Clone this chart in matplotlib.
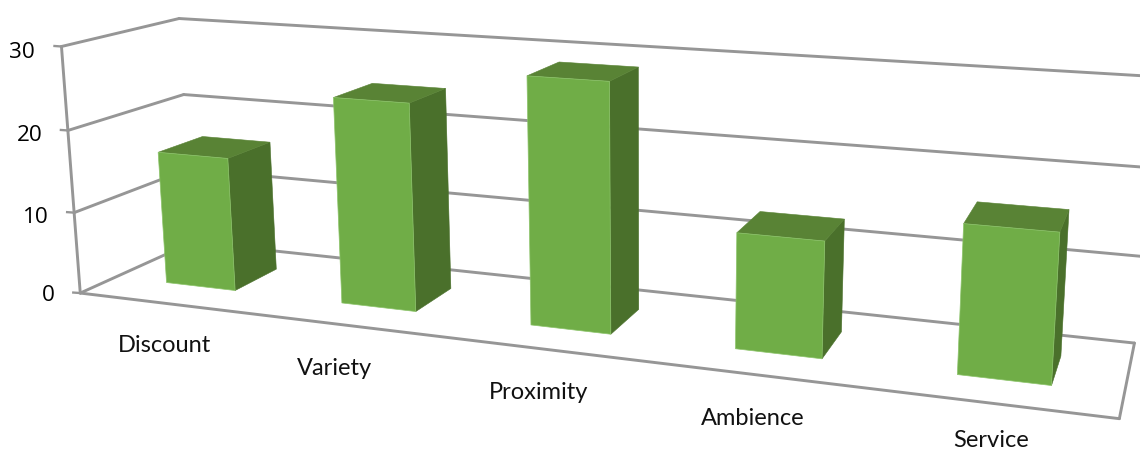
import numpy as np
import matplotlib
matplotlib.use("Agg")
import matplotlib.pyplot as plt
from matplotlib.patches import Polygon

plt.rcParams['font.family'] = ['Lato', 'DejaVu Sans']

# ---- data ----
categories = ["Discount", "Variety", "Proximity", "Ambience", "Service"]
values = [16.4, 24.75, 28.8, 13.15, 16.4]
y_ticks = [0, 10, 20, 30]

# ---- perspective camera fitted to the chart frame (world: category, value, depth) ----
calib_world = [(0,0,0),(0,10,0),(0,20,0),(0,30,0),(0,0,1),(0,10,1),(0,20,1),(0,30,1),
               (5,0,0),(5,0,1),(5,10,1),(5,20,1),(5,30,1)]
calib_px = [(81,293),(74,213),(69,131),(61,47),(195,241.5),(189,169),(183,95),(178,18.5),
            (1117,419),(1135,343),(1139.5,255),(1144,167.5),(1149,75.5)]
hw, z0, z1 = 0.2, 0.3, 0.7
_fl = [(166,283),(341,303),(530,325),(735,349),(957,374)]
_fr = [(235,290),(416,311),(610,334),(822,358),(1051,385)]
_br = [(275,268),(450,288),(638,310),(843,333),(1062,359)]
_tfl = [(158,153),(333,98),(528,76),(737,233),(965,223)]
_tfr = [(228,157),(409,103),(610,80.5),(825,241),(1061,231)]
_tbr = [(269,142),(445,88.5),(639,67),(845,220),(1071,210)]
_tbl = [(203,137),(372,83.5),(560,62),(761,212),(979,202)]
for i, val in enumerate(values):
    a, c = i+.5-hw, i+.5+hw
    calib_world += [(a,0,z0),(c,0,z0),(c,0,z1),(a,val,z0),(c,val,z0),(c,val,z1),(a,val,z1)]
    calib_px += [_fl[i],_fr[i],_br[i],_tfl[i],_tfr[i],_tbr[i],_tbl[i]]
A, b = [], []
for (X, Y, Z), (u, v) in zip(calib_world, calib_px):
    A.append([X,Y,Z,1,0,0,0,0,-u*X,-u*Y,-u*Z]); b.append(u)
    A.append([0,0,0,0,X,Y,Z,1,-v*X,-v*Y,-v*Z]); b.append(v)
p = np.linalg.lstsq(np.array(A, float), np.array(b, float), rcond=None)[0]
P = np.append(p, 1.0).reshape(3, 4)

def proj(X, Y, Z):
    h = P @ np.array([X, Y, Z, 1.0])
    return h[:2] / h[2]

fig = plt.figure(figsize=(11.4, 4.51), dpi=100)
ax = fig.add_axes([0, 0, 1, 1])
ax.set_xlim(0, 1140); ax.set_ylim(451, 0); ax.axis('off')

GREY = "#969696"
LW = 2.1
def seg(p0, p1):
    a, c = proj(*p0), proj(*p1)
    ax.plot([a[0], c[0]], [a[1], c[1]], color=GREY, lw=LW, solid_capstyle='round', zorder=1)

n = len(categories)
top = y_ticks[-1]
for t in y_ticks:
    seg((0, t, 0), (0, t, 1))
    seg((0, t, 1), (n, t, 1))
    a = proj(0, t, 0)
    ax.plot([a[0]-7, a[0]], [a[1]-0.5, a[1]], color=GREY, lw=LW*0.8, zorder=1)
seg((0, 0, 0), (0, top, 0))
seg((0, 0, 0), (n, 0, 0))
seg((n, 0, 0), (n, 0, 1))

# ---- bars ----
FRONT, TOP, SIDE = "#70AD47", "#598335", "#4A702B"
for i, val in enumerate(values):
    x0, x1 = i + 0.5 - hw, i + 0.5 + hw
    side = [proj(x1,0,z0), proj(x1,0,z1), proj(x1,val,z1), proj(x1,val,z0)]
    topf = [proj(x0,val,z0), proj(x1,val,z0), proj(x1,val,z1), proj(x0,val,z1)]
    front = [proj(x0,0,z0), proj(x1,0,z0), proj(x1,val,z0), proj(x0,val,z0)]
    z = 3 + i*0.1
    ax.add_patch(Polygon(side, closed=True, fc=SIDE, ec=SIDE, lw=0.4, zorder=z))
    ax.add_patch(Polygon(topf, closed=True, fc=TOP, ec=TOP, lw=0.4, zorder=z))
    ax.add_patch(Polygon(front, closed=True, fc=FRONT, ec="#8CC46A", lw=0.5, zorder=z+0.05))

# ---- text ----
for t, (px, py) in zip(y_ticks, [(55, 301), (49, 223), (43, 141), (35, 58)]):
    ax.text(px, py, str(t), ha='right', va='baseline', fontsize=16.2, color='black',
            family=['Open Sans', 'DejaVu Sans'])
for c, (px, py) in zip(categories, [(164, 352), (334, 375), (539, 399), (753, 425), (991, 447)]):
    ax.text(px, py, c, ha='center', va='baseline', fontsize=17, color='#111111')

fig.savefig("out.png", dpi=100, facecolor='white')
